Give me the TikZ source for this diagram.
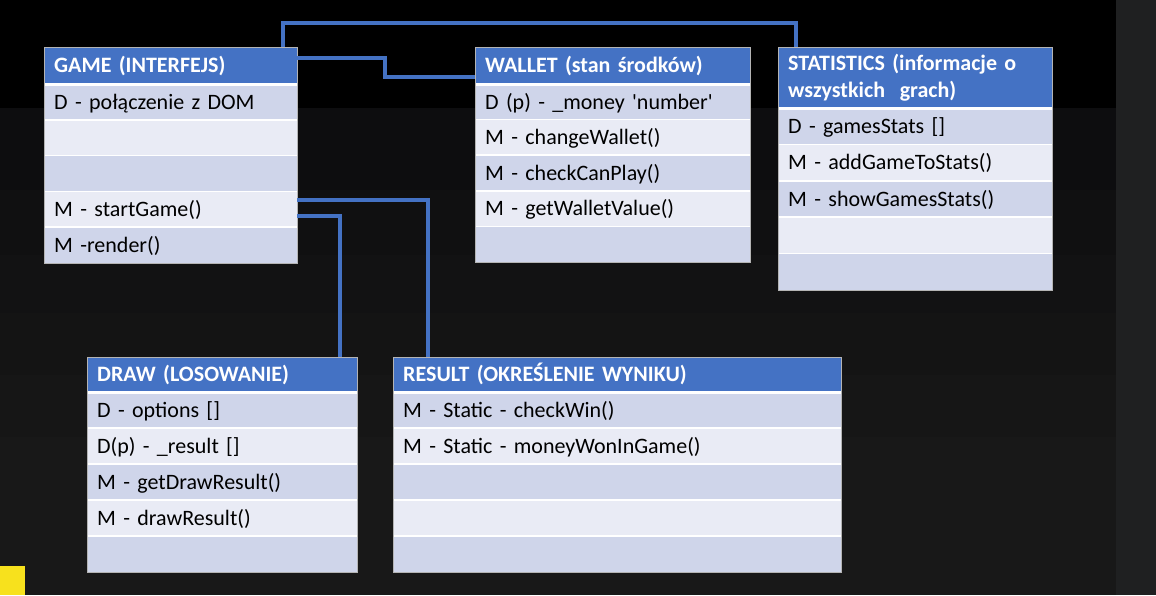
\documentclass[tikz,border=0pt]{standalone}
\usepackage{fontspec}
\setmainfont{Carlito}
\definecolor{hdr}{HTML}{4472C4}
\definecolor{rowa}{HTML}{CFD5EA}
\definecolor{rowb}{HTML}{E9EBF5}
\definecolor{side}{HTML}{1F2021}
\definecolor{ymark}{HTML}{F7E11D}
\definecolor{edge}{HTML}{B4B4B4}
\definecolor{bga}{HTML}{0D0D0F}
\definecolor{bgb}{HTML}{101011}
\definecolor{bgc}{HTML}{121213}
\definecolor{bgd}{HTML}{141414}
\definecolor{bge}{HTML}{161616}
\definecolor{bgf}{HTML}{181818}
\newcommand\crow[7]{\node[rowbox,fill=#6,text width=\dimexpr #4pt-20pt\relax,minimum height=#5pt] (#1) at (#2,#3) {#7};}
\begin{document}
\begin{tikzpicture}[x=1pt,y=-1pt,
  basebox/.style={anchor=north west,inner xsep=10pt,inner ysep=0pt,align=left,
    font=\fontsize{22}{27}\selectfont,text=black},
  rowbox/.style={basebox,text height=18pt,text depth=4pt},
  hdrbox/.style={rowbox,fill=hdr,text=white,font=\fontsize{22}{27}\selectfont\bfseries},
  hdrtwo/.style={basebox,fill=hdr,text=white,font=\fontsize{22}{27}\selectfont\bfseries},
  conn/.style={draw=hdr,line width=3.2pt},
  sep/.style={draw=white,line width=1.5pt},
  hsep/.style={draw=white,line width=3pt},
  boxline/.style={draw=edge,line width=0.8pt}]
\useasboundingbox (0,0) rectangle (1156,595);
% background
\fill[black] (0,0) rectangle (1116,108);
\fill[bga] (0,108) rectangle (1116,190);
\fill[bgb] (0,190) rectangle (1116,255);
\fill[bgc] (0,255) rectangle (1116,313);
\fill[bgd] (0,313) rectangle (1116,375);
\fill[bge] (0,375) rectangle (1116,437);
\fill[bgf] (0,437) rectangle (1116,595);
\fill[side] (1116,0) rectangle (1156,595);
\fill[ymark] (0,566) rectangle (25,595);

% GAME
\node[hdrbox,text width=233pt,minimum height=37pt] (gameh) at (44,47) {GAME (INTERFEJS)};
\crow{g1}{44}{84}{253}{35.8}{rowa}{D - połączenie z DOM}
\crow{g2}{44}{119.8}{253}{35.8}{rowb}{}
\crow{g3}{44}{155.6}{253}{35.8}{rowa}{}
\crow{g4}{44}{191.4}{253}{35.8}{rowb}{M - startGame()}
\crow{g5}{44}{227.2}{253}{35.8}{rowa}{M -render()}

% WALLET
\node[hdrbox,text width=255pt,minimum height=37pt] (walleth) at (475,47) {WALLET (stan środków)};
\crow{w1}{475}{84}{275}{35.6}{rowa}{D (p) - \_money \textquotesingle number\textquotesingle}
\crow{w2}{475}{119.6}{275}{35.6}{rowb}{M - changeWallet()}
\crow{w3}{475}{155.2}{275}{35.6}{rowa}{M - checkCanPlay()}
\crow{w4}{475}{190.8}{275}{35.6}{rowb}{M - getWalletValue()}
\crow{w5}{475}{226.4}{275}{35.6}{rowa}{}

% STATISTICS
\node[hdrtwo,text width=254pt,minimum height=61pt] (stath) at (778,47) {STATISTICS (informacje o\\wszystkich\ \ grach)};
\crow{s1}{778}{108}{274}{36.4}{rowa}{D - gamesStats []}
\crow{s2}{778}{144.4}{274}{36.4}{rowb}{M - addGameToStats()}
\crow{s3}{778}{180.8}{274}{36.4}{rowa}{M - showGamesStats()}
\crow{s4}{778}{217.2}{274}{36.4}{rowb}{}
\crow{s5}{778}{253.6}{274}{36.4}{rowa}{}

% DRAW
\node[hdrbox,text width=250pt,minimum height=35pt] (drawh) at (87,357) {DRAW (LOSOWANIE)};
\crow{d1}{87}{392}{270}{36}{rowa}{D - options []}
\crow{d2}{87}{428}{270}{36}{rowb}{D(p) - \_result []}
\crow{d3}{87}{464}{270}{36}{rowa}{M - getDrawResult()}
\crow{d4}{87}{500}{270}{36}{rowb}{M - drawResult()}
\crow{d5}{87}{536}{270}{36}{rowa}{}

% RESULT
\node[hdrbox,text width=428pt,minimum height=35pt] (resh) at (393,357) {RESULT (OKREŚLENIE WYNIKU)};
\crow{r1}{393}{392}{448}{36}{rowa}{M - Static - checkWin()}
\crow{r2}{393}{428}{448}{36}{rowb}{M - Static - moneyWonInGame()}
\crow{r3}{393}{464}{448}{36}{rowa}{}
\crow{r4}{393}{500}{448}{36}{rowb}{}
\crow{r5}{393}{536}{448}{36}{rowa}{}

% separators and outlines
\foreach \h in {gameh,walleth,stath,drawh,resh}
  \draw[hsep] (\h.south west) -- (\h.south east);
\foreach \r in {g2,g3,g4,g5,w2,w3,w4,w5,s2,s3,s4,s5,d2,d3,d4,d5,r2,r3,r4,r5}
  \draw[sep] (\r.north west) -- (\r.north east);
\draw[boxline] (gameh.north west) rectangle (g5.south east);
\draw[boxline] (walleth.north west) rectangle (w5.south east);
\draw[boxline] (stath.north west) rectangle (s5.south east);
\draw[boxline] (drawh.north west) rectangle (d5.south east);
\draw[boxline] (resh.north west) rectangle (r5.south east);

% connectors
\coordinate (j1) at (283,23);
\coordinate (j2) at (796,23);
\draw[conn] (j1 |- gameh.north) -- (j1) -- (j2) -- (j2 |- stath.north);
\coordinate (j3) at (385,58);
\coordinate (j4) at (385,77);
\draw[conn] (gameh.east |- j3) -- (j3) -- (j4) -- (j4 -| walleth.west);
\coordinate (j5) at (428,200);
\draw[conn] (g4.east |- j5) -- (j5) -- (j5 |- resh.north);
\coordinate (j6) at (340,216);
\draw[conn] (g4.east |- j6) -- (j6) -- (j6 |- drawh.north);
\end{tikzpicture}
\end{document}
